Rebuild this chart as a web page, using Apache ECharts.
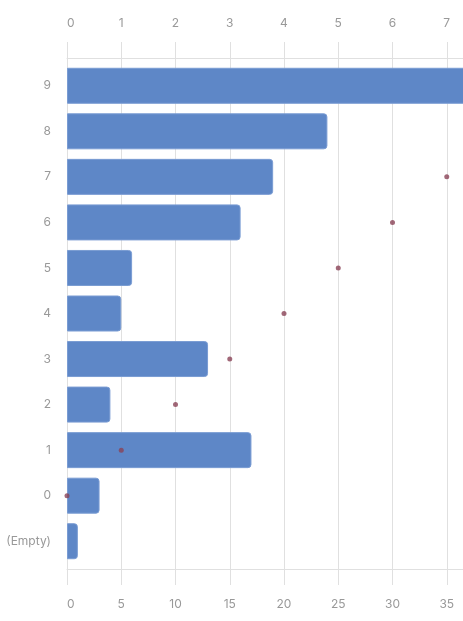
<!DOCTYPE html>
<html>
<head>
<meta charset="utf-8">
<script src="https://cdn.jsdelivr.net/npm/echarts@6/dist/echarts.min.js"></script>
<style>
  html, body { margin: 0; padding: 0; background: #fff; }
  #chart { width: 463px; height: 621px; }
</style>
</head>
<body>
<div id="chart"></div>
<script>
// categories, bottom to top
const categories = ['(Empty)', '0', '1', '2', '3', '4', '5', '6', '7', '8', '9'];
// bar lengths (bottom axis)
const counts = [1, 3, 17, 4, 13, 5, 6, 16, 19, 24, 38];
// dots (top axis)
const dotCats = ['0', '1', '2', '3', '4', '5', '6', '7'];
const dotValues = [0, 1, 2, 3, 4, 5, 6, 7];

const gridColor = '#e0e0e0';
const labelColor = '#999';
const font = 'Inter, "Noto Sans", sans-serif';

// axis with labels + ticks + split lines, sitting on the grid edge
function mainAxis(pos, max, interval) {
  return {
    type: 'value', position: pos, min: 0, max: max, interval: interval,
    axisLine: { show: false },
    axisTick: { show: true, length: 21, lineStyle: { color: gridColor } },
    axisLabel: { color: labelColor, fontFamily: font, fontSize: 12, margin: 34, alignMinLabel: 'left' },
    splitLine: { show: true, lineStyle: { color: gridColor } }
  };
}
// just the horizontal line, pushed a bit outward
function lineAxis(pos, max, interval) {
  return {
    type: 'value', position: pos, min: 0, max: max, interval: interval, offset: 5,
    axisLine: { show: true, lineStyle: { color: gridColor } },
    axisTick: { show: false }, axisLabel: { show: false }, splitLine: { show: false }
  };
}

const chart = echarts.init(document.getElementById('chart'));
chart.setOption({
  animation: false,
  // plot area runs past the right edge of the window
  grid: { left: 67, width: 434, top: 63, bottom: 57, containLabel: false, outerBoundsMode: 'none' },
  xAxis: [
    mainAxis('bottom', 40, 5),
    mainAxis('top', 8, 1),
    lineAxis('bottom', 40, 5),
    lineAxis('top', 8, 1)
  ],
  yAxis: {
    type: 'category', data: categories,
    axisLine: { show: false }, axisTick: { show: false },
    axisLabel: { color: labelColor, fontFamily: font, fontSize: 12, margin: 16 }
  },
  series: [
    {
      type: 'bar', xAxisIndex: 0, barWidth: 36,
      data: counts,
      itemStyle: { color: '#5e87c7', borderColor: '#7a9cd3', borderWidth: 1, borderRadius: [0, 3, 3, 0] }
    },
    {
      type: 'scatter', xAxisIndex: 1, symbolSize: 5, z: 5,
      data: dotValues.map((v, i) => [v, dotCats[i]]),
      itemStyle: { color: '#8a4256' }
    }
  ]
});
</script>
</body>
</html>
